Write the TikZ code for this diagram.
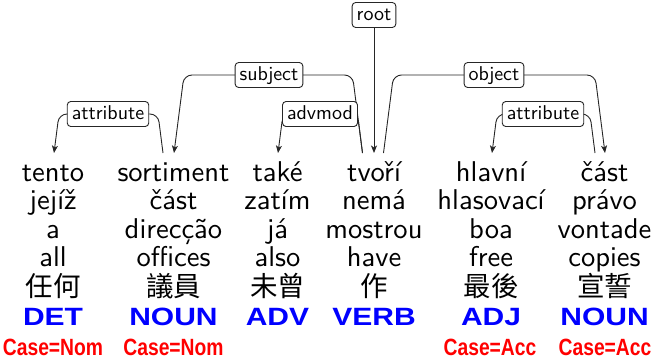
\documentclass[tikz,border=0pt]{standalone}
\usepackage{fontspec}
\usetikzlibrary{arrows.meta,calc,backgrounds}
\newfontfamily\wordfont{lmsans10-regular}[Extension=.otf]
\newfontfamily\cjkfont{Noto Sans CJK TC}
\newfontfamily\posfont{Liberation Sans}[FakeStretch=1.2]
\newfontfamily\featfont{Liberation Sans}[FakeStretch=0.82]
\definecolor{posblue}{RGB}{0,0,255}
\definecolor{featred}{RGB}{255,0,0}
\begin{document}
\begin{tikzpicture}[x=1pt,y=-1pt,
  word/.style={anchor=base,inner sep=0pt,font=\wordfont\fontsize{28.6}{28.6}\selectfont},
  zh/.style={anchor=base,inner sep=0pt,font=\cjkfont\fontsize{27.5}{27.5}\selectfont},
  postag/.style={anchor=base,inner sep=0pt,text=posblue,font=\posfont\bfseries\fontsize{25}{25}\selectfont},
  feat/.style={anchor=base,inner sep=0pt,text=featred,font=\featfont\bfseries\fontsize{23.5}{23.5}\selectfont},
  deplabel/.style={draw=black!85,fill=white,line width=0.9pt,rounded corners=3.5pt,
    inner xsep=4.5pt,inner ysep=3.5pt,text height=14pt,text depth=4pt,
    font=\wordfont\fontsize{20}{20}\selectfont},
  arc/.style={draw=black!85,line width=0.9pt,rounded corners=8pt},
  dep/.style={arc,-{Stealth[length=7.5pt,width=6pt,inset=2pt]}}]
\useasboundingbox (0,0) rectangle (655,359);

% token columns: form in four languages, Chinese form, part of speech
\foreach \c/\x/\ra/\rb/\rc/\rd/\zw/\tag in {
  1/53/tento/jejíž/a/all/任何/DET,
  2/173.5/sortiment/část/direcção/offices/議員/NOUN,
  3/277.5/také/zatím/já/also/未曾/ADV,
  4/374/tvoří/nemá/mostrou/have/作/VERB,
  5/491/hlavní/hlasovací/boa/free/最後/ADJ,
  6/604.5/část/právo/vontade/copies/宣誓/NOUN}{
  \node[word] (w\c-a) at (\x,181) {\ra};
  \node[word] (w\c-b) at (\x,209.5) {\rb};
  \node[word] (w\c-c) at (\x,238) {\rc};
  \node[word] (w\c-d) at (\x,266.5) {\rd};
  \node[zh] (w\c-zh) at (\x,296) {\zw};
  \node[postag] (w\c-pos) at (\x,325) {\tag};
}

% morphological features
\node[feat] (w1-feat) at (53,355) {Case=Nom};
\node[feat] (w2-feat) at (173.5,355) {Case=Nom};
\node[feat] (w5-feat) at (490,355) {Case=Acc};
\node[feat] (w6-feat) at (605,355) {Case=Acc};

% attachment points above the tokens
\coordinate (w1-in)   at (54,153);
\coordinate (w2-in)   at (174,153);
\coordinate (w2-out)  at (163,153);
\coordinate (w3-in)   at (278,153);
\coordinate (w4-in)   at (374,153);
\coordinate (w4-outl) at (362.5,153);
\coordinate (w4-outr) at (383.5,153);
\coordinate (w5-in)   at (492,153);
\coordinate (w6-in)   at (605,153);
\coordinate (w6-out)  at (595,153);

% relation labels
\node[deplabel] (root)  at (374,15)  {root};
\node[deplabel] (subj)  at (269,75)  {subject};
\node[deplabel] (obj)   at (494,75)  {object};
\node[deplabel] (attl)  at (108,114) {attribute};
\node[deplabel] (advm)  at (320,114) {advmod};
\node[deplabel] (attr)  at (543,114) {attribute};

% dependency arcs, drawn beneath the labels
\begin{pgfonlayer}{background}
\draw[dep] (root) -- (w4-in);
\draw[dep] (w4-outl) -- ($(w4-outl |- subj)+(-10,0)$) -- ($(w2-in |- subj)+(10,0)$) -- (w2-in);
\draw[dep] (w4-outr) -- ($(w4-outr |- obj)+(10,0)$) -- ($(w6-in |- obj)+(-10,0)$) -- (w6-in);
\draw[dep] (w2-out) -- ($(w2-out |- attl)+(-5,0)$) -- ($(w1-in |- attl)+(5,0)$) -- (w1-in);
\draw[dep] (w4-outl) -- ($(w4-outl |- advm)+(-5,0)$) -- ($(w3-in |- advm)+(5,0)$) -- (w3-in);
\draw[dep] (w6-out) -- ($(w6-out |- attr)+(-5,0)$) -- ($(w5-in |- attr)+(5,0)$) -- (w5-in);
\end{pgfonlayer}
\end{tikzpicture}
\end{document}
